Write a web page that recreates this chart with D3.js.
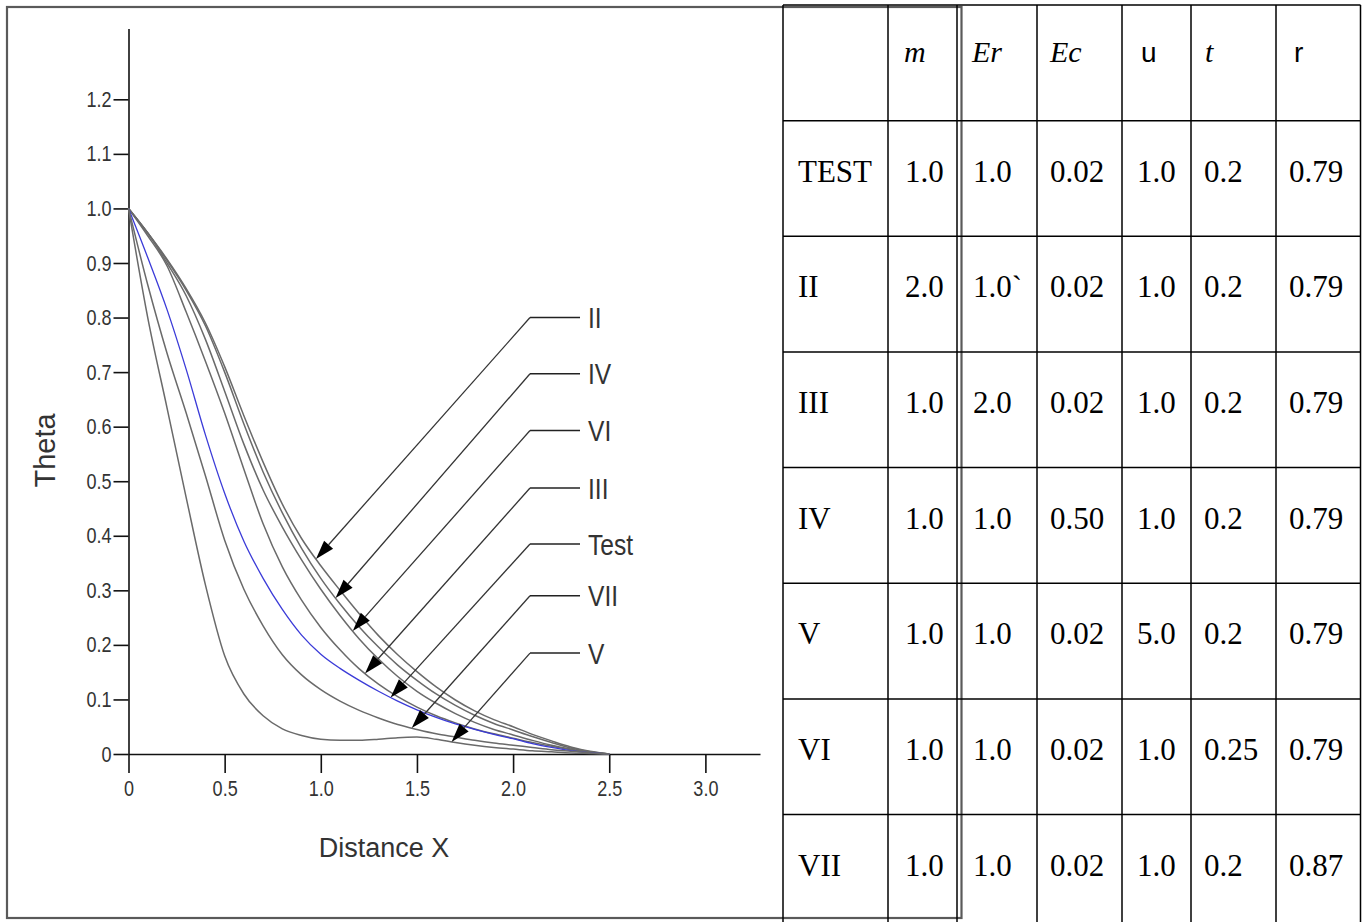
<!DOCTYPE html>
<html><head><meta charset="utf-8">
<script src="https://cdn.jsdelivr.net/npm/d3@7"></script>
<style>body{margin:0;background:#fff}svg{display:block}</style>
</head><body>
<svg id="c" width="1364" height="922"></svg>
<script>
// ---------------- data ----------------
const xGrid = [0,0.1,0.2,0.3,0.4,0.5,0.6,0.7,0.8,0.9,1.0,1.1,1.2,1.3,1.4,1.5,1.6,1.7,1.8,1.9,2.0,2.1,2.2,2.3,2.4,2.5];
const thetaII   = [1,0.955,0.907,0.853,0.79,0.71,0.62,0.535,0.458,0.395,0.345,0.3,0.257,0.217,0.182,0.151,0.123,0.099,0.079,0.063,0.05,0.036,0.024,0.013,0.005,0];
const thetaIV   = [1,0.955,0.905,0.85,0.785,0.7,0.605,0.517,0.442,0.377,0.322,0.275,0.233,0.196,0.163,0.135,0.11,0.089,0.071,0.056,0.044,0.032,0.021,0.011,0.004,0];
const thetaVI   = [1,0.955,0.9,0.84,0.76,0.665,0.568,0.484,0.416,0.356,0.302,0.254,0.211,0.174,0.142,0.115,0.093,0.074,0.058,0.045,0.035,0.025,0.016,0.009,0.003,0];
const thetaIII  = [1,0.95,0.895,0.81,0.72,0.625,0.522,0.422,0.343,0.282,0.232,0.191,0.156,0.128,0.105,0.086,0.07,0.057,0.046,0.037,0.029,0.021,0.014,0.008,0.003,0];
const thetaTest = [1,0.91,0.815,0.705,0.585,0.478,0.39,0.322,0.265,0.218,0.183,0.157,0.135,0.115,0.097,0.081,0.067,0.055,0.045,0.036,0.028,0.019,0.012,0.006,0.002,0];
const thetaVII  = [1,0.86,0.735,0.625,0.51,0.392,0.302,0.235,0.182,0.145,0.118,0.097,0.08,0.066,0.054,0.045,0.037,0.031,0.025,0.02,0.016,0.012,0.008,0.005,0.002,0];
const thetaV    = [1,0.8,0.635,0.47,0.31,0.18,0.11,0.07,0.046,0.034,0.027,0.025,0.025,0.027,0.03,0.031,0.027,0.021,0.016,0.012,0.009,0.006,0.004,0.002,0.001,0];

const seriesNames  = ["II","IV","VI","III","Test","VII","V"];
const seriesValues = [thetaII,thetaIV,thetaVI,thetaIII,thetaTest,thetaVII,thetaV];
const labelLevels  = [0.80,0.697,0.593,0.4875,0.385,0.29,0.185];   // theta level of each label leader
const arrowTipX    = [0.975,1.077,1.166,1.23,1.363,1.473,1.68];     // distance X where each arrow hits its curve
const labelLeaderX = [2.088,2.348];                                  // leader start / end (distance X)

const yTicks = [0,0.1,0.2,0.3,0.4,0.5,0.6,0.7,0.8,0.9,1.0,1.1,1.2];
const yTickLabels = ["0","0.1","0.2","0.3","0.4","0.5","0.6","0.7","0.8","0.9","1.0","1.1","1.2"];
const xTicks = [0,0.5,1.0,1.5,2.0,2.5,3.0];
const xTickLabels = ["0","0.5","1.0","1.5","2.0","2.5","3.0"];

const tableHeaders = ["","m","Er","Ec","u","t","r"];
const tableRowNames = ["TEST","II","III","IV","V","VI","VII"];
const colM  = ["1.0","2.0","1.0","1.0","1.0","1.0","1.0"];
const colEr = ["1.0","1.0`","2.0","1.0","1.0","1.0","1.0"];
const colEc = ["0.02","0.02","0.02","0.50","0.02","0.02","0.02"];
const colU  = ["1.0","1.0","1.0","1.0","5.0","1.0","1.0"];
const colT  = ["0.2","0.2","0.2","0.2","0.2","0.25","0.2"];
const colR  = ["0.79","0.79","0.79","0.79","0.79","0.79","0.87"];

// ---------------- layout ----------------
const svg = d3.select("#c");
const SANS = "'Liberation Sans', Arial, sans-serif";
const SERIF = "'Liberation Serif', 'Times New Roman', serif";
const NARROW = 0.82;

const x = d3.scaleLinear().domain([0, 3.284]).range([128.5, 760]);
const y = d3.scaleLinear().domain([0, 1.33]).range([754, 28.4]);

// frame
svg.append("rect").attr("x",7).attr("y",7).attr("width",954.5).attr("height",911)
  .attr("fill","none").attr("stroke","#5a5a5a").attr("stroke-width",2.2);

// axes
const yAxis = d3.axisLeft(y).tickValues(yTicks).tickSize(15).tickSizeOuter(0)
  .tickFormat((d,i)=>yTickLabels[i]);
const gy = svg.append("g").attr("transform",`translate(${x(0)},0)`).call(yAxis);
const xAxis = d3.axisBottom(x).tickValues(xTicks).tickSize(19).tickSizeOuter(0)
  .tickFormat((d,i)=>xTickLabels[i]);
const gx = svg.append("g").attr("transform",`translate(0,${y(0)})`).call(xAxis);

[gx,gy].forEach(g=>{
  g.select(".domain").attr("stroke","#111").attr("stroke-width",1.6);
  g.selectAll(".tick line").attr("stroke","#111").attr("stroke-width",1.6);
  g.selectAll(".tick text").attr("font-family",SANS).attr("font-size",22).attr("fill","#333");
});
gy.selectAll(".tick text").attr("x",0).attr("transform",`translate(-17,0) scale(${NARROW},1)`);
gx.selectAll(".tick text").attr("y",0).attr("transform",`translate(0,26) scale(${NARROW},1)`);

// axis titles
svg.append("text").attr("transform","translate(55,450.5) rotate(-90)")
  .attr("text-anchor","middle").attr("font-family",SANS).attr("font-size",29).attr("fill","#333")
  .text("Theta");
svg.append("text").attr("x",384).attr("y",856.5)
  .attr("text-anchor","middle").attr("font-family",SANS).attr("font-size",27).attr("fill","#333")
  .text("Distance X");

// curves
const line = d3.line().x((d,i)=>x(xGrid[i])).y(d=>y(d)).curve(d3.curveMonotoneX);
seriesNames.forEach((name,k)=>{
  svg.append("path").datum(seriesValues[k]).attr("d",line).attr("fill","none")
    .attr("stroke", name==="Test" ? "#3b3bd8" : "#6a6a6a")
    .attr("stroke-width", name==="Test" ? 1.3 : 1.5);
});

// annotations
function interp(xs, ys, v){
  for(let i=0;i<xs.length-1;i++){
    if(v>=xs[i] && v<=xs[i+1]){ const t=(v-xs[i])/(xs[i+1]-xs[i]); return ys[i]+t*(ys[i+1]-ys[i]); }
  }
  return ys[ys.length-1];
}
seriesNames.forEach((name,k)=>{
  const lx0 = x(labelLeaderX[0]), lx1 = x(labelLeaderX[1]), ly = y(labelLevels[k]);
  const tx = x(arrowTipX[k]), ty = y(interp(xGrid, seriesValues[k], arrowTipX[k]));
  const dx = tx-lx0, dy = ty-ly, L = Math.hypot(dx,dy), ux = dx/L, uy = dy/L;
  const aL = 19, aW = 6;
  const bx = tx-ux*aL, by = ty-uy*aL;
  svg.append("line").attr("x1",lx1).attr("y1",ly).attr("x2",lx0).attr("y2",ly)
    .attr("stroke","#222").attr("stroke-width",1.4);
  svg.append("line").attr("x1",lx0).attr("y1",ly).attr("x2",bx).attr("y2",by)
    .attr("stroke","#333").attr("stroke-width",1.3);
  svg.append("path").attr("d",`M${tx},${ty}L${bx-uy*aW},${by+ux*aW}L${bx+uy*aW},${by-ux*aW}Z`)
    .attr("fill","#000");
  svg.append("text").attr("transform",`translate(${lx1+8},${ly+10.7}) scale(${NARROW},1)`)
    .attr("font-family",SANS).attr("font-size",30).attr("fill","#333").text(name);
});

// ---------------- table ----------------
const colEdges = [783, 888, 957, 1037, 1122, 1191, 1276, 1360.5];
const rowTop = 5, rowH = 115.65;
const tbl = svg.append("g");
for(let k=0;k<=8;k++){
  tbl.append("line").attr("x1",colEdges[0]).attr("x2",colEdges[colEdges.length-1])
    .attr("y1",rowTop+k*rowH).attr("y2",rowTop+k*rowH).attr("stroke","#000").attr("stroke-width",1.5);
}
colEdges.forEach(cx=>{
  tbl.append("line").attr("x1",cx).attr("x2",cx).attr("y1",rowTop).attr("y2",922)
    .attr("stroke","#000").attr("stroke-width",1.5);
});
const headerX = [null, 904, 972, 1050, 1141, 1205, 1294];
const headerItalic = [false,true,true,true,false,true,false];
tableHeaders.forEach((h,i)=>{
  if(!h) return;
  tbl.append("text").attr("x",headerX[i]).attr("y",rowTop+56.7)
    .attr("font-family", headerItalic[i] ? SERIF : SANS)
    .attr("font-style", headerItalic[i] ? "italic" : "normal")
    .attr("font-size", headerItalic[i] ? 30 : 28).attr("fill","#000").text(h);
});
const cellX = [798, 905, 973, 1050, 1137, 1204, 1289];
const cols = [tableRowNames, colM, colEr, colEc, colU, colT, colR];
tableRowNames.forEach((r,ri)=>{
  const by = rowTop + (ri+1)*rowH + 61;
  cols.forEach((c,ci)=>{
    tbl.append("text").attr("x",cellX[ci]).attr("y",by)
      .attr("font-family",SERIF).attr("font-size",31).attr("fill","#000").text(c[ri]);
  });
});
</script>
</body></html>
